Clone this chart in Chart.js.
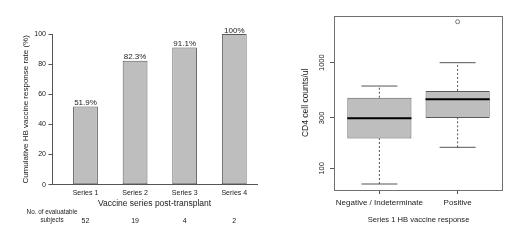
<!DOCTYPE html>
<html><head><meta charset="utf-8">
<script src="https://cdn.jsdelivr.net/npm/chart.js@4.4.0/dist/chart.umd.min.js"></script>
<style>
html,body{margin:0;padding:0;background:#fff;width:520px;height:241px;overflow:hidden}
.panel{position:absolute;top:0;width:260px;height:241px}
#pa{left:0}#pb{left:260px}
</style></head><body>
<div class="panel" id="pa"><canvas id="c1" width="260" height="241"></canvas></div>
<div class="panel" id="pb"><canvas id="c2" width="260" height="241"></canvas></div>
<script>
// ---- Left panel data ----
const seriesLabels = ['Series 1', 'Series 2', 'Series 3', 'Series 4'];
const responseRates = [51.9, 82.3, 91.1, 100];
const subjectCounts = [52, 19, 4, 2];
const rateTicks = [0, 20, 40, 60, 80, 100];

// ---- Right panel data (CD4 counts, box plot statistics) ----
const groupLabels = ['Negative / Indeterminate', 'Positive'];
const cd4Min = [71, 158];
const cd4Q1 = [192, 300];
const cd4Median = [298, 450];
const cd4Q3 = [466, 540];
const cd4Max = [601, 1000];
const cd4Outliers = [[], [2443]];
const cd4Ticks = [100, 300, 1000];

const FONT = "'Liberation Sans', Arial, Helvetica, sans-serif";
const TXT = '#1a1a1a';
const AX = '#555';

// ---------- Left chart ----------
const seriesPos = seriesLabels.map((_, i) => i + 1);

const barValueLabels = {
  id: 'barValueLabels',
  afterDatasetsDraw(chart) {
    const ctx = chart.ctx;
    const meta = chart.getDatasetMeta(0);
    ctx.save();
    ctx.font = '8px ' + FONT;
    ctx.fillStyle = TXT;
    ctx.textAlign = 'center';
    ctx.textBaseline = 'alphabetic';
    meta.data.forEach((el, i) => ctx.fillText(responseRates[i] + '%', el.x, el.y - 1.5));
    ctx.restore();
  }
};

new Chart(document.getElementById('c1'), {
  type: 'bar',
  data: {
    datasets: [{
      data: seriesPos.map((p, i) => ({x: p, y: responseRates[i]})),
      backgroundColor: '#bebebe',
      borderColor: '#5a5a5a',
      borderWidth: 1,
      borderSkipped: false,
      barPercentage: 0.5,
      categoryPercentage: 1
    }]
  },
  options: {
    responsive: false, animation: false, devicePixelRatio: 1,
    layout: {padding: {top: 34, right: 3, bottom: 0, left: 0}},
    plugins: {legend: {display: false}, tooltip: {enabled: false}},
    scales: {
      x: {
        type: 'linear', position: 'bottom', weight: 0, min: 0.325, max: 4.458,
        offset: false, bounds: 'data',
        afterBuildTicks: s => { s.ticks = seriesPos.map(v => ({value: v})); },
        afterFit: s => { s.height = 24; },
        grid: {display: false, drawTicks: false, offset: false},
        border: {display: true, color: AX, width: 1},
        ticks: {autoSkip: false, maxRotation: 0, padding: 3.8, color: TXT,
          font: {family: FONT, size: 7, lineHeight: '8.4px'},
          callback: (v, i) => seriesLabels[i]},
        title: {display: true, text: 'Vaccine series post-transplant', color: TXT,
          font: {family: FONT, size: 8.5}, padding: {top: 0, bottom: 0}}
      },
      x2: {
        type: 'linear', position: 'bottom', weight: 1, min: 0.325, max: 4.458,
        offset: false, bounds: 'data',
        afterBuildTicks: s => { s.ticks = [{value: s.min}].concat(seriesPos.map(v => ({value: v}))); },
        afterFit: s => { s.height = 32.3; },
        grid: {display: false, drawTicks: false, offset: false},
        border: {display: false},
        ticks: {autoSkip: false, maxRotation: 0, padding: 0, color: TXT,
          font: c => c.index === 0 ? {family: FONT, size: 6.3, lineHeight: '8px'} : {family: FONT, size: 7, lineHeight: '8px'},
          callback: (v, i) => i === 0 ? ['No. of evaluatable', 'subjects'] : ['', String(subjectCounts[i - 1])]}
      },
      y: {
        type: 'linear', position: 'left', min: 0, max: 100, bounds: 'data',
        afterBuildTicks: s => { s.ticks = rateTicks.map(v => ({value: v})); },
        afterFit: s => { s.width = 52; },
        grid: {display: true, drawOnChartArea: false, drawTicks: true, tickLength: 3.5, color: AX, lineWidth: 1},
        border: {display: true, color: AX, width: 1},
        ticks: {padding: 2.5, color: TXT, font: {family: FONT, size: 7}, callback: v => String(v)},
        title: {display: true, text: 'Cumulative HB vaccine response rate (%)', color: TXT,
          font: {family: FONT, size: 8}, padding: {top: 21.2, bottom: 0}}
      }
    }
  },
  plugins: [barValueLabels]
});

// ---------- Right chart (box plot) ----------
const groupPos = groupLabels.map((_, i) => i + 1);
const BOX_HALF = 0.41, CAP_HALF = 0.23;

function seg(x1, y1, x2, y2, extra) {
  return Object.assign({
    type: 'line', order: 0, data: [{x: x1, y: y1}, {x: x2, y: y2}],
    pointRadius: 0, borderWidth: 1, borderColor: AX, fill: false, tension: 0
  }, extra || {});
}

const boxDatasets = [{
  type: 'bar', order: 5,
  data: groupPos.map((p, i) => ({x: p, y: [cd4Q1[i], cd4Q3[i]]})),
  backgroundColor: '#bebebe', borderColor: '#5a5a5a', borderWidth: 1,
  borderSkipped: false, barPercentage: 0.82, categoryPercentage: 1
}];
groupPos.forEach((p, i) => {
  boxDatasets.push(seg(p, cd4Q3[i], p, cd4Max[i], {borderDash: [2, 2]}));
  boxDatasets.push(seg(p, cd4Min[i], p, cd4Q1[i], {borderDash: [2, 2]}));
  boxDatasets.push(seg(p - CAP_HALF, cd4Max[i], p + CAP_HALF, cd4Max[i]));
  boxDatasets.push(seg(p - CAP_HALF, cd4Min[i], p + CAP_HALF, cd4Min[i]));
  boxDatasets.push(seg(p - BOX_HALF, cd4Median[i], p + BOX_HALF, cd4Median[i], {borderColor: '#000', borderWidth: 2}));
});
boxDatasets.push({
  type: 'line', order: 0, showLine: false,
  data: groupPos.flatMap((p, i) => cd4Outliers[i].map(v => ({x: p, y: v}))),
  pointRadius: 2, pointBorderWidth: 0.8, pointBorderColor: AX, pointBackgroundColor: 'rgba(0,0,0,0)'
});

const framePlugin = {
  id: 'frame',
  afterDraw(chart) {
    const {ctx, chartArea: a} = chart;
    ctx.save();
    ctx.strokeStyle = '#707070';
    ctx.lineWidth = 1;
    ctx.strokeRect(Math.round(a.left) + 0.5, Math.round(a.top) + 0.5,
      Math.round(a.right - a.left) - 1, Math.round(a.bottom - a.top));
    ctx.restore();
  }
};

new Chart(document.getElementById('c2'), {
  type: 'bar',
  data: {datasets: boxDatasets},
  options: {
    responsive: false, animation: false, devicePixelRatio: 1,
    layout: {padding: {top: 15.7, right: 17, bottom: 0, left: 0}},
    plugins: {legend: {display: false}, tooltip: {enabled: false}},
    scales: {
      x: {
        type: 'linear', position: 'bottom', min: 0.42, max: 2.58, offset: false, bounds: 'data',
        afterBuildTicks: s => { s.ticks = groupPos.map(v => ({value: v})); },
        afterFit: s => { s.height = 51; },
        grid: {display: true, drawOnChartArea: false, drawTicks: true, tickLength: 4, color: AX, offset: false},
        border: {display: false},
        ticks: {autoSkip: false, maxRotation: 0, padding: 4, color: TXT,
          font: {family: FONT, size: 8}, callback: (v, i) => groupLabels[i]},
        title: {display: true, text: 'Series 1 HB vaccine response', color: TXT,
          font: {family: FONT, size: 7.6}, padding: {top: 0, bottom: 17}}
      },
      y: {
        type: 'logarithmic', position: 'left', min: 62.3, max: 2786, bounds: 'data',
        afterBuildTicks: s => { s.ticks = cd4Ticks.map(v => ({value: v})); },
        afterFit: s => { s.width = 74; },
        grid: {display: true, drawOnChartArea: false, drawTicks: true, tickLength: 4, color: AX},
        border: {display: false},
        ticks: {minRotation: 90, maxRotation: 90, crossAlign: 'center', padding: 0, color: TXT,
          font: {family: FONT, size: 7.5}, callback: v => String(v)},
        title: {display: true, text: 'CD4 cell counts/ul', color: TXT,
          font: {family: FONT, size: 8.5}, padding: {top: 41, bottom: 0}}
      }
    }
  },
  plugins: [framePlugin]
});
</script>
</body></html>
